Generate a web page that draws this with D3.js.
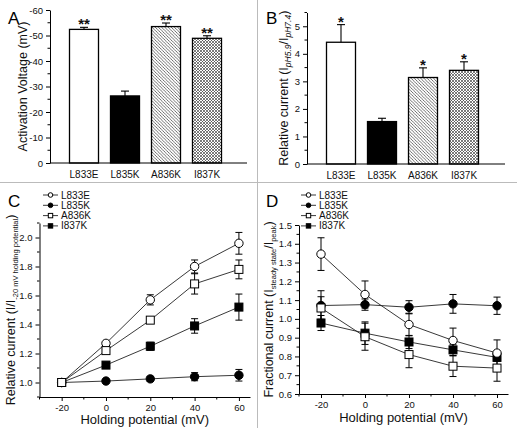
<!DOCTYPE html>
<html><head><meta charset="utf-8">
<script src="https://cdn.jsdelivr.net/npm/d3@7"></script>
<style>body{margin:0;background:#fff}svg{display:block;font-family:"Liberation Sans",Arial,sans-serif}</style>
</head><body><svg id="c" width="517" height="428"></svg>
<script>
// ---- data ----
const mutants = ["L833E","L835K","A836K","I837K"];
const actVoltage = [-52.4,-26.3,-53.5,-48.9];
const actVoltageErr = [0.8,1.9,1.4,1.0];
const actStars = ["**","","**","**"];
const relCurrent = [4.42,1.54,3.14,3.40];
const relCurrentErr = [0.64,0.12,0.35,0.31];
const relStars = ["*","","*","*"];
const holding = [-20,0,20,40,60];
const cL833E = [1.0,1.27,1.57,1.80,1.96], cL833Ee=[0,0.012,0.035,0.045,0.075];
const cL835K = [1.0,1.01,1.025,1.04,1.05], cL835Ke=[0,0.008,0.018,0.028,0.04];
const cA836K = [1.0,1.22,1.43,1.68,1.78], cA836Ke=[0,0.02,0.015,0.07,0.065];
const cI837K = [1.0,1.12,1.25,1.39,1.52], cI837Ke=[0,0.01,0.028,0.05,0.09];
const dL833E = [1.345,1.13,0.97,0.885,0.818], dL833Ee=[0.087,0.072,0.06,0.066,0.07];
const dL835K = [1.071,1.076,1.062,1.08,1.07], dL835Ke=[0.079,0.03,0.035,0.05,0.046];
const dA836K = [1.058,0.905,0.81,0.748,0.738], dA836Ke=[0.06,0.072,0.07,0.055,0.07];
const dI837K = [0.978,0.924,0.877,0.835,0.795], dI837Ke=[0.04,0.06,0.035,0.03,0.02];
const yTicksA = [0,-10,-20,-30,-40,-50,-60];
const yTicksB = [0,1,2,3,4,5];
const yTicksC = [1.0,1.2,1.4,1.6,1.8,2.0];
const yTicksD = [0.6,0.7,0.8,0.9,1.0,1.1,1.2,1.3,1.4,1.5];

const svg = d3.select("#c");
const FONT = '"Liberation Sans",Arial,sans-serif';
svg.append("rect").attr("width",517).attr("height",428).attr("fill","#fff");

// patterns
const defs = svg.append("defs");
const p1 = defs.append("pattern").attr("id","diag").attr("patternUnits","userSpaceOnUse").attr("width",3.2).attr("height",3.2);
p1.append("rect").attr("width",3.2).attr("height",3.2).attr("fill","#fff");
p1.append("path").attr("d","M-1,-1 L4.2,4.2 M-1,2.2 L1,4.2 M2.2,-1 L4.2,1").attr("stroke","#333").attr("stroke-width",0.7);
const p2 = defs.append("pattern").attr("id","cross").attr("patternUnits","userSpaceOnUse").attr("width",3).attr("height",3);
p2.append("rect").attr("width",3).attr("height",3).attr("fill","#fff");
p2.append("path").attr("d","M0,0 L3,3 M3,0 L0,3").attr("stroke","#444").attr("stroke-width",0.7);
const fills = ["#fff","#000","url(#diag)","url(#cross)"];

// dividers
svg.append("line").attr("x1",0).attr("x2",517).attr("y1",182.5).attr("y2",182.5).attr("stroke","#bbb").attr("stroke-width",1);
svg.append("line").attr("x1",257.5).attr("x2",257.5).attr("y1",0).attr("y2",428).attr("stroke","#bbb").attr("stroke-width",1);

function panelLabel(t,x,y){svg.append("text").attr("x",x).attr("y",y).attr("font-size",17).attr("font-family",FONT).text(t);}
panelLabel("A",8,24);panelLabel("B",266,24);panelLabel("C",8,207);panelLabel("D",266,207);

function minorTicksY(g,scale,vals,x0){
  g.selectAll(null).data(vals).enter().append("line").attr("x1",x0).attr("x2",x0-2.5)
   .attr("y1",d=>scale(d)).attr("y2",d=>scale(d)).attr("stroke","#000").attr("stroke-width",1);
}
function minorTicksX(g,scale,vals,y0){
  g.selectAll(null).data(vals).enter().append("line").attr("y1",y0).attr("y2",y0+2.5)
   .attr("x1",d=>scale(d)).attr("x2",d=>scale(d)).attr("stroke","#000").attr("stroke-width",1);
}
function styleAxis(g){
  g.selectAll("path.domain").attr("stroke","#000").attr("stroke-width",1);
  g.selectAll(".tick line").attr("stroke","#000").attr("stroke-width",1);
  g.selectAll("text").attr("font-family",FONT).attr("font-size",9.5).attr("fill","#111");
}

// ---- bar panel ----
function barPanel(o){
  const x = d3.scalePoint().domain(mutants).range([o.left+34,o.left+157]);
  const bw = 29;
  const y = d3.scaleLinear().domain(o.ydom).range([o.bottom,o.top]);
  const g = svg.append("g");
  g.selectAll("rect.bar").data(mutants).enter().append("rect")
   .attr("x",d=>x(d)-bw/2).attr("width",bw)
   .attr("y",(d,i)=>Math.min(y(o.vals[i]),y(0))).attr("height",(d,i)=>Math.abs(y(0)-y(o.vals[i])))
   .attr("fill",(d,i)=>fills[i]).attr("stroke","#000").attr("stroke-width",1.3);
  mutants.forEach((m,i)=>{
    const cx = x(m);
    const v = o.vals[i], e = o.errs[i]*Math.sign(v);
    g.append("line").attr("x1",cx).attr("x2",cx).attr("y1",y(v)).attr("y2",y(v+e)).attr("stroke","#000").attr("stroke-width",1.1);
    g.append("line").attr("x1",cx-4).attr("x2",cx+4).attr("y1",y(v+e)).attr("y2",y(v+e)).attr("stroke","#000").attr("stroke-width",1.1);
    if(o.stars[i]) g.append("text").attr("x",cx).attr("y",y(v+e)+2).attr("text-anchor","middle")
      .attr("font-size",15).attr("font-weight","bold").attr("font-family",FONT).attr("fill","#111").text(o.stars[i]);
  });
  const ya = g.append("g").attr("transform",`translate(${o.left},0)`)
    .call(d3.axisLeft(y).tickValues(o.yticks).tickSize(4).tickSizeOuter(0).tickFormat(d=>String(d)));
  styleAxis(ya);
  minorTicksY(g,y,o.minor,o.left);
  g.append("line").attr("x1",o.left).attr("x2",o.right).attr("y1",o.bottom).attr("y2",o.bottom).attr("stroke","#000").attr("stroke-width",1);
  g.selectAll("text.cat").data(mutants).enter().append("text")
   .attr("x",d=>x(d)).attr("y",o.bottom+15).attr("text-anchor","middle")
   .attr("font-size",10).attr("font-family",FONT).attr("fill","#111").text(d=>d);
  const lab = g.append("text").attr("transform",`translate(${o.labx},${(o.top+o.bottom)/2}) rotate(-90)`)
    .attr("text-anchor","middle").attr("font-size",o.labsize).attr("font-family",FONT).attr("fill","#111");
  o.label(lab);
}

barPanel({left:50,right:247,top:10,bottom:163,ydom:[0,-60],vals:actVoltage,errs:actVoltageErr,stars:actStars,
  yticks:yTicksA,minor:d3.range(-5,-60,-10),labx:27,labsize:12.5,
  label:t=>t.text("Activation Voltage (mV)")});
barPanel({left:307,right:505,top:12.5,bottom:164,ydom:[0,5.5],vals:relCurrent,errs:relCurrentErr,stars:relStars,
  yticks:yTicksB,minor:[0.5,1.5,2.5,3.5,4.5,5.5],labx:288,labsize:12.5,
  label:t=>{t.append("tspan").text("Relative current (I");
    t.append("tspan").attr("font-size",8.5).attr("font-style","italic").attr("dy",3).text("pH5.9");
    t.append("tspan").attr("dy",-3).text("/I");
    t.append("tspan").attr("font-size",8.5).attr("font-style","italic").attr("dy",3).text("pH7.4");
    t.append("tspan").attr("dy",-3).text(")");}});

// ---- line panel ----
const series = ["L833E","L835K","A836K","I837K"];
const markerType = [{shape:"circle",fill:"#fff"},{shape:"circle",fill:"#000"},{shape:"square",fill:"#fff"},{shape:"square",fill:"#000"}];
function marker(g,cx,cy,i,scale){
  const s = scale||1, m = markerType[i];
  if(m.shape==="circle") g.append("circle").attr("cx",cx).attr("cy",cy).attr("r",4.2*s).attr("fill",m.fill).attr("stroke","#000").attr("stroke-width",1);
  else g.append("rect").attr("x",cx-4*s).attr("y",cy-4*s).attr("width",8*s).attr("height",8*s).attr("fill",m.fill).attr("stroke","#000").attr("stroke-width",1);
}
function linePanel(o){
  const x = d3.scaleLinear().domain([-30,65]).range([o.left,o.right]);
  const y = d3.scaleLinear().domain(o.ydom).range([o.bottom,o.top]);
  const g = svg.append("g");
  const line = d3.line().x((d,i)=>x(holding[i])).y(d=>y(d));
  o.data.forEach((vals,si)=>{
    g.append("path").attr("d",line(vals)).attr("fill","none").attr("stroke","#222").attr("stroke-width",0.9);
  });
  o.data.forEach((vals,si)=>{
    vals.forEach((v,i)=>{
      const e = o.errs[si][i]; if(!e) return;
      const cx = x(holding[i]);
      g.append("line").attr("x1",cx).attr("x2",cx).attr("y1",y(v-e)).attr("y2",y(v+e)).attr("stroke","#000").attr("stroke-width",1);
      [v-e,v+e].forEach(w=>g.append("line").attr("x1",cx-3.5).attr("x2",cx+3.5).attr("y1",y(w)).attr("y2",y(w)).attr("stroke","#000").attr("stroke-width",1));
    });
  });
  o.order.forEach(si=>{
    o.data[si].forEach((v,i)=>marker(g,x(holding[i]),y(v),si));
  });
  const xa = g.append("g").attr("transform",`translate(0,${o.bottom})`)
    .call(d3.axisBottom(x).tickValues(holding).tickSize(4).tickSizeOuter(0).tickFormat(d=>String(d)));
  styleAxis(xa);
  minorTicksX(g,x,[-30,-10,10,30,50],o.bottom);
  const ya = g.append("g").attr("transform",`translate(${o.left},0)`)
    .call(d3.axisLeft(y).tickValues(o.yticks).tickSize(4).tickSizeOuter(0).tickFormat(d3.format(".1f")));
  styleAxis(ya);
  minorTicksY(g,y,o.minor,o.left);
  g.append("text").attr("x",(o.left+o.right)/2).attr("y",o.titleY).attr("text-anchor","middle")
   .attr("font-size",13).attr("font-family",FONT).attr("fill","#111").text("Holding potential (mV)");
  const lab = g.append("text").attr("transform",`translate(${o.labx},${(o.top+o.bottom)/2}) rotate(-90)`)
    .attr("text-anchor","middle").attr("font-size",12.5).attr("font-family",FONT).attr("fill","#111");
  o.label(lab);
  series.forEach((s,i)=>{
    const ly = o.legY + i*10.3;
    g.append("line").attr("x1",o.legX).attr("x2",o.legX+15).attr("y1",ly).attr("y2",ly).attr("stroke","#222").attr("stroke-width",0.9);
    marker(g,o.legX+7.5,ly,i,0.55);
    g.append("text").attr("x",o.legX+18).attr("y",ly+3.5).attr("font-size",10).attr("font-family",FONT).attr("fill","#111").text(s);
  });
}
linePanel({left:39.5,right:250,top:223,bottom:397,ydom:[0.9,2.1],titleY:423.5,
  data:[cL833E,cL835K,cA836K,cI837K],errs:[cL833Ee,cL835Ke,cA836Ke,cI837Ke],order:[1,3,0,2],
  yticks:yTicksC,minor:[0.9,1.1,1.3,1.5,1.7,1.9,2.1],labx:15,legX:43,legY:195,
  label:t=>{t.append("tspan").text("Relative current (I/I");
    t.append("tspan").attr("font-size",7.5).attr("dy",3).text("-20 mV holding potential");
    t.append("tspan").attr("dy",-3).text(")");}});
linePanel({left:299,right:508,top:225,bottom:394,ydom:[0.6,1.5],titleY:422,
  data:[dL833E,dL835K,dA836K,dI837K],errs:[dL833Ee,dL835Ke,dA836Ke,dI837Ke],order:[1,3,0,2],
  yticks:yTicksD,minor:[0.65,0.75,0.85,0.95,1.05,1.15,1.25,1.35,1.45],labx:273,legX:301,legY:195,
  label:t=>{t.append("tspan").text("Fractional current (I");
    t.append("tspan").attr("font-size",7.5).attr("dy",3).text("steady state");
    t.append("tspan").attr("dy",-3).text("/I");
    t.append("tspan").attr("font-size",7.5).attr("dy",3).text("peak");
    t.append("tspan").attr("dy",-3).text(")");}});
</script></body></html>
